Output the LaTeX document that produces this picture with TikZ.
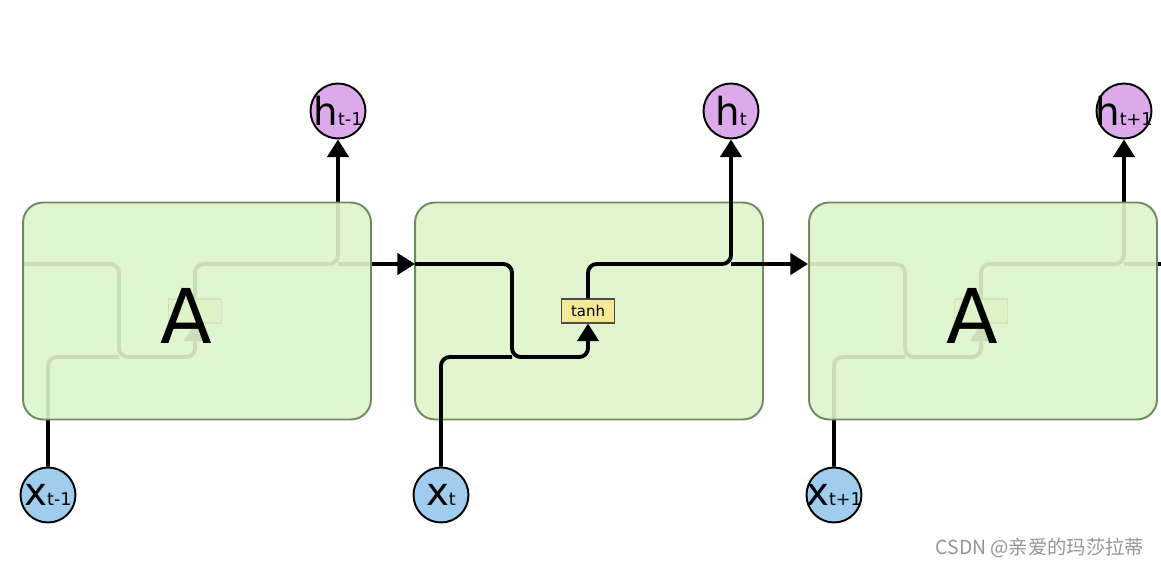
\documentclass[tikz,border=0pt]{standalone}
\usepackage{fontspec}
\setmainfont{DejaVu Sans}
\newfontfamily\cjk{Noto Sans CJK SC}
\usetikzlibrary{arrows.meta}
\definecolor{cellfill}{RGB}{224,245,208}
\definecolor{cellfillb}{RGB}{221,244,204}
\definecolor{celledge}{RGB}{112,140,92}
\definecolor{hfill}{RGB}{220,170,234}
\definecolor{xfill}{RGB}{160,204,238}
\definecolor{gatefill}{RGB}{246,233,150}

\begin{document}
\begin{tikzpicture}[x=0.02cm,y=-0.02cm,
  cell/.style={draw=celledge,line width=1.1pt,fill=cellfill,rounded corners=0.4cm,
    minimum width=6.96cm,minimum height=4.34cm,inner sep=0},
  wire/.style={line width=2.2pt,rounded corners=5pt},
  tip/.style={-{Triangle[length=10pt,width=12pt]}},
  hnode/.style={circle,draw,line width=1.1pt,fill=hfill,minimum size=1.1cm,inner sep=0},
  xnode/.style={circle,draw,line width=1.1pt,fill=xfill,minimum size=1.1cm,inner sep=0},
  gate/.style={draw=black!70,line width=0.6pt,fill=gatefill,minimum width=1.06cm,
    minimum height=0.48cm,inner sep=0,font=\fontsize{8.5}{8.5}\selectfont},
  big/.style={font=\fontsize{43}{43}\selectfont}]

\useasboundingbox (0,0) rectangle (1161,567);

% middle cell sits under its wires
\node[cell] (cell2) at (589,311) {};

% points on the state line, one set per cell
\foreach \i/\dx in {1/-393,2/0,3/393}{
  \coordinate (in\i) at (415+\dx,264);
  \coordinate (jn\i) at (512+\dx,357);
  \coordinate (sp\i) at (731+\dx,264);
}
\coordinate (in4) at (1201,264);

\foreach \i/\dx/\lab in {1/-393/t-1,2/0/t,3/393/t+1}{
  \node[gate] (th\i) at (588+\dx,311) {\ifnum\i=2 tanh\fi};
  \node[xnode,label=center:{{\fontsize{22}{22}\selectfont x}{\fontsize{10}{10}\selectfont\lab}}] (x\i) at (441+\dx,495) {};
  \node[hnode,label=center:{{\fontsize{22}{22}\selectfont h}{\fontsize{10}{10}\selectfont\lab}}] (h\i) at (731+\dx,111) {};
  \pgfmathtruncatemacro\nxt{\i+1}
  \draw[wire,tip] (in\i) -| (jn\i) -| (th\i.south);
  \draw[wire] (x\i.north) |- (jn\i);
  \draw[wire,tip] (th\i.north) |- (sp\i) -- (h\i.south);
  \draw[wire,tip] (sp\i) -- (in\nxt);
}

% outer cells on top, half see-through
\node[cell,fill=cellfillb,fill opacity=.91] (cell1) at (197,311) {};
\node[cell,fill=cellfillb,fill opacity=.91] (cell3) at (983,311) {};
\node[big] (a1) at (186,316) {A};
\node[big] (a3) at (972,316) {A};

\node[text=black!42,font=\cjk\fontsize{11}{11}\selectfont] (wm) at (1040,548) {CSDN @亲爱的玛莎拉蒂};

\end{tikzpicture}
\end{document}
